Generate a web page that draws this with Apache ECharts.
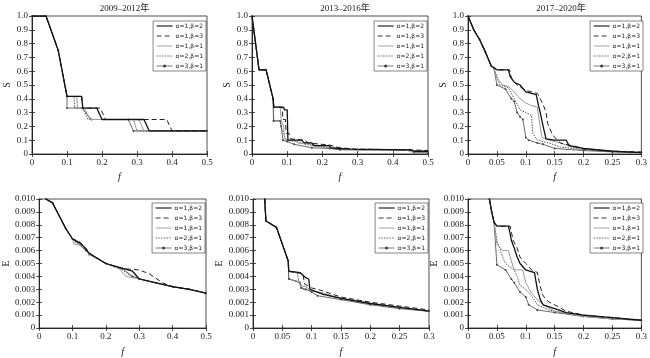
<!DOCTYPE html>
<html><head><meta charset="utf-8">
<script src="https://cdn.jsdelivr.net/npm/echarts@6/dist/echarts.min.js"></script>
<style>html,body{margin:0;padding:0;background:#fff}#c{width:650px;height:358px}</style>
</head><body><div id="c"></div>
<script>
var seriesNames = ['α=1,β=2','α=1,β=3','α=1,β=1','α=2,β=1','α=3,β=1'];
var periodTitles = ['2009–2012年','2013–2016年','2017–2020年'];
var xTicks1 = [0,0.1,0.2,0.3,0.4,0.5];
var xTicks2 = [0,0.05,0.1,0.15,0.2,0.25,0.3];

// Panel 1: S, 2009-2012
var p1_a1b2 = [[0,1],[0.04,1],[0.075,0.75],[0.1,0.417],[0.142,0.417],[0.145,0.333],[0.185,0.333],[0.2,0.25],[0.32,0.25],[0.335,0.167],[0.5,0.167]];
var p1_a1b3 = [[0,1],[0.04,1],[0.075,0.75],[0.1,0.417],[0.142,0.417],[0.145,0.333],[0.195,0.333],[0.21,0.25],[0.385,0.25],[0.4,0.167],[0.5,0.167]];
var p1_a1b1 = [[0,1],[0.04,1],[0.075,0.75],[0.1,0.417],[0.128,0.417],[0.13,0.333],[0.15,0.333],[0.165,0.25],[0.305,0.25],[0.32,0.167],[0.5,0.167]];
var p1_a2b1 = [[0,1],[0.04,1],[0.075,0.75],[0.1,0.417],[0.12,0.417],[0.122,0.333],[0.145,0.333],[0.16,0.25],[0.29,0.25],[0.3,0.167],[0.5,0.167]];
var p1_a3b1 = [[0,1],[0.04,1],[0.075,0.75],[0.1,0.417],[0.1,0.333],[0.142,0.333],[0.17,0.25],[0.275,0.25],[0.29,0.167],[0.5,0.167]];

// Panel 2: S, 2013-2016
var p2_a1b2 = [[0,1],[0.02,0.61],[0.04,0.61],[0.06,0.4],[0.062,0.34],[0.09,0.34],[0.092,0.32],[0.1,0.32],[0.102,0.1],[0.14,0.1],[0.15,0.08],[0.17,0.08],[0.175,0.06],[0.22,0.06],[0.225,0.045],[0.25,0.04],[0.28,0.035],[0.45,0.03],[0.46,0.02],[0.5,0.02]];
var p2_a1b3 = [[0,1],[0.02,0.61],[0.04,0.61],[0.06,0.4],[0.062,0.34],[0.085,0.34],[0.088,0.25],[0.095,0.25],[0.097,0.15],[0.105,0.15],[0.11,0.11],[0.15,0.1],[0.16,0.08],[0.22,0.065],[0.25,0.045],[0.3,0.035],[0.45,0.03],[0.5,0.025]];
var p2_a1b1 = [[0,1],[0.02,0.61],[0.04,0.61],[0.06,0.4],[0.062,0.34],[0.08,0.34],[0.083,0.24],[0.09,0.2],[0.092,0.12],[0.1,0.1],[0.12,0.1],[0.13,0.08],[0.17,0.07],[0.2,0.055],[0.25,0.04],[0.3,0.03],[0.44,0.03],[0.45,0.015],[0.5,0.015]];
var p2_a2b1 = [[0,1],[0.02,0.61],[0.04,0.61],[0.06,0.4],[0.062,0.24],[0.08,0.24],[0.085,0.18],[0.09,0.15],[0.095,0.1],[0.13,0.09],[0.15,0.07],[0.2,0.05],[0.25,0.04],[0.3,0.03],[0.45,0.025],[0.5,0.02]];
var p2_a3b1 = [[0,1],[0.02,0.61],[0.04,0.61],[0.06,0.4],[0.061,0.24],[0.08,0.24],[0.083,0.2],[0.088,0.1],[0.1,0.09],[0.12,0.07],[0.17,0.045],[0.22,0.04],[0.25,0.03],[0.45,0.03],[0.46,0.01],[0.5,0.01]];

// Panel 3: S, 2017-2020
var p3_a1b2 = [[0,1],[0.01,0.9],[0.02,0.83],[0.03,0.74],[0.04,0.64],[0.05,0.61],[0.07,0.61],[0.073,0.56],[0.08,0.52],[0.09,0.5],[0.1,0.45],[0.11,0.44],[0.118,0.43],[0.122,0.35],[0.125,0.3],[0.13,0.2],[0.135,0.11],[0.15,0.1],[0.17,0.1],[0.175,0.06],[0.2,0.04],[0.25,0.02],[0.3,0.01]];
var p3_a1b3 = [[0,1],[0.01,0.9],[0.02,0.83],[0.03,0.74],[0.04,0.64],[0.05,0.61],[0.072,0.61],[0.075,0.55],[0.085,0.5],[0.1,0.46],[0.12,0.44],[0.125,0.4],[0.13,0.36],[0.135,0.3],[0.138,0.22],[0.145,0.15],[0.15,0.12],[0.16,0.08],[0.17,0.07],[0.19,0.05],[0.2,0.035],[0.25,0.02],[0.3,0.015]];
var p3_a1b1 = [[0,1],[0.01,0.9],[0.02,0.83],[0.03,0.74],[0.04,0.64],[0.045,0.62],[0.05,0.55],[0.06,0.5],[0.07,0.49],[0.08,0.45],[0.09,0.4],[0.1,0.37],[0.11,0.35],[0.12,0.34],[0.123,0.25],[0.128,0.12],[0.14,0.1],[0.16,0.08],[0.18,0.05],[0.2,0.03],[0.25,0.02],[0.3,0.01]];
var p3_a2b1 = [[0,1],[0.01,0.9],[0.02,0.83],[0.03,0.74],[0.04,0.64],[0.045,0.62],[0.055,0.5],[0.07,0.48],[0.08,0.4],[0.09,0.32],[0.1,0.3],[0.11,0.28],[0.112,0.15],[0.12,0.1],[0.14,0.08],[0.16,0.05],[0.2,0.03],[0.25,0.02],[0.3,0.01]];
var p3_a3b1 = [[0,1],[0.01,0.9],[0.02,0.83],[0.03,0.74],[0.04,0.64],[0.045,0.62],[0.05,0.5],[0.065,0.47],[0.075,0.4],[0.08,0.38],[0.085,0.3],[0.09,0.27],[0.095,0.25],[0.1,0.12],[0.105,0.1],[0.12,0.08],[0.13,0.07],[0.15,0.04],[0.2,0.025],[0.25,0.015],[0.3,0.01]];

// Panel 4: E, 2009-2012
var p4_a1b2 = [[0.02,0.0100],[0.04,0.0097],[0.06,0.0087],[0.08,0.0077],[0.1,0.0069],[0.12,0.0066],[0.13,0.0064],[0.15,0.0058],[0.2,0.0050],[0.24,0.0047],[0.28,0.0044],[0.3,0.0038],[0.35,0.0035],[0.4,0.0032],[0.45,0.0030],[0.5,0.0027]];
var p4_a1b3 = [[0.02,0.0100],[0.04,0.0097],[0.06,0.0087],[0.08,0.0077],[0.1,0.0069],[0.12,0.0067],[0.14,0.0062],[0.15,0.0058],[0.2,0.0050],[0.25,0.0046],[0.3,0.0045],[0.33,0.0042],[0.37,0.0035],[0.4,0.0032],[0.45,0.0030],[0.5,0.0027]];
var p4_a1b1 = [[0.02,0.0100],[0.04,0.0097],[0.06,0.0087],[0.08,0.0077],[0.1,0.0069],[0.105,0.0065],[0.13,0.0064],[0.15,0.0057],[0.2,0.0050],[0.24,0.0046],[0.26,0.0040],[0.3,0.0038],[0.35,0.0035],[0.4,0.0032],[0.45,0.0030],[0.5,0.0027]];
var p4_a2b1 = [[0.02,0.0100],[0.04,0.0097],[0.06,0.0087],[0.08,0.0077],[0.1,0.0069],[0.11,0.0068],[0.125,0.0066],[0.15,0.0058],[0.2,0.0050],[0.25,0.0045],[0.27,0.0041],[0.3,0.0038],[0.35,0.0035],[0.4,0.0032],[0.45,0.0030],[0.5,0.0027]];
var p4_a3b1 = [[0.02,0.0100],[0.04,0.0097],[0.06,0.0087],[0.08,0.0077],[0.1,0.0069],[0.11,0.0067],[0.14,0.0060],[0.15,0.0057],[0.2,0.0050],[0.25,0.0046],[0.28,0.0040],[0.3,0.0038],[0.35,0.0035],[0.4,0.0032],[0.45,0.0030],[0.5,0.0027]];

// Panel 5: E, 2013-2016
var p5_a1b2 = [[0.02,0.0100],[0.022,0.0083],[0.04,0.0078],[0.06,0.0052],[0.061,0.0044],[0.08,0.0043],[0.09,0.0039],[0.095,0.0038],[0.097,0.0030],[0.1,0.0029],[0.12,0.0026],[0.15,0.0023],[0.2,0.0019],[0.25,0.0016],[0.3,0.0013]];
var p5_a1b3 = [[0.02,0.0100],[0.022,0.0083],[0.04,0.0078],[0.06,0.0052],[0.061,0.0044],[0.085,0.0042],[0.088,0.0034],[0.1,0.0031],[0.11,0.0030],[0.13,0.0027],[0.15,0.0024],[0.2,0.0020],[0.25,0.0017],[0.3,0.0014]];
var p5_a1b1 = [[0.02,0.0100],[0.022,0.0083],[0.04,0.0078],[0.06,0.0052],[0.061,0.0044],[0.075,0.0043],[0.08,0.0033],[0.09,0.0032],[0.1,0.0029],[0.12,0.0027],[0.15,0.0023],[0.2,0.0019],[0.25,0.0016],[0.3,0.0013]];
var p5_a2b1 = [[0.02,0.0100],[0.022,0.0083],[0.04,0.0078],[0.06,0.0052],[0.061,0.0038],[0.08,0.0036],[0.085,0.0030],[0.1,0.0029],[0.13,0.0025],[0.15,0.0023],[0.2,0.0019],[0.25,0.0016],[0.3,0.0013]];
var p5_a3b1 = [[0.02,0.0100],[0.022,0.0083],[0.04,0.0078],[0.06,0.0052],[0.061,0.0038],[0.08,0.0035],[0.082,0.0031],[0.09,0.0030],[0.1,0.0028],[0.11,0.0025],[0.15,0.0022],[0.2,0.0018],[0.25,0.0015],[0.3,0.0013]];

// Panel 6: E, 2017-2020
var p6_a1b2 = [[0.037,0.0100],[0.041,0.0090],[0.045,0.0082],[0.05,0.0079],[0.07,0.0079],[0.072,0.0075],[0.075,0.0068],[0.08,0.0062],[0.085,0.0055],[0.09,0.0050],[0.1,0.0045],[0.115,0.0043],[0.12,0.0030],[0.125,0.0022],[0.13,0.0018],[0.15,0.0015],[0.17,0.0012],[0.2,0.0010],[0.25,0.0008],[0.3,0.0006]];
var p6_a1b3 = [[0.037,0.0100],[0.041,0.0090],[0.045,0.0082],[0.05,0.0079],[0.073,0.0079],[0.078,0.0068],[0.085,0.0062],[0.09,0.0055],[0.1,0.0050],[0.11,0.0045],[0.12,0.0043],[0.125,0.0032],[0.13,0.0025],[0.14,0.0020],[0.15,0.0018],[0.17,0.0013],[0.2,0.0010],[0.25,0.0008],[0.3,0.0006]];
var p6_a1b1 = [[0.037,0.0100],[0.041,0.0090],[0.045,0.0082],[0.05,0.0065],[0.06,0.0060],[0.07,0.0060],[0.075,0.0052],[0.08,0.0045],[0.095,0.0045],[0.1,0.0035],[0.11,0.0027],[0.12,0.0022],[0.13,0.0018],[0.15,0.0013],[0.2,0.0009],[0.25,0.0007],[0.3,0.0006]];
var p6_a2b1 = [[0.037,0.0100],[0.041,0.0090],[0.045,0.0082],[0.05,0.0068],[0.06,0.0055],[0.065,0.0050],[0.08,0.0045],[0.085,0.0040],[0.09,0.0033],[0.1,0.0030],[0.11,0.0025],[0.12,0.0018],[0.14,0.0014],[0.16,0.0012],[0.2,0.0009],[0.25,0.0007],[0.3,0.0006]];
var p6_a3b1 = [[0.037,0.0100],[0.041,0.0090],[0.045,0.0082],[0.05,0.0049],[0.065,0.0045],[0.075,0.0038],[0.08,0.0035],[0.09,0.0028],[0.1,0.0024],[0.105,0.0018],[0.12,0.0014],[0.15,0.0012],[0.2,0.0009],[0.25,0.0007],[0.3,0.0006]];

var panelData = [
  [p1_a1b2,p1_a1b3,p1_a1b1,p1_a2b1,p1_a3b1],
  [p2_a1b2,p2_a1b3,p2_a1b1,p2_a2b1,p2_a3b1],
  [p3_a1b2,p3_a1b3,p3_a1b1,p3_a2b1,p3_a3b1],
  [p4_a1b2,p4_a1b3,p4_a1b1,p4_a2b1,p4_a3b1],
  [p5_a1b2,p5_a1b3,p5_a1b1,p5_a2b1,p5_a3b1],
  [p6_a1b2,p6_a1b3,p6_a1b1,p6_a2b1,p6_a3b1]
];

var grids = [
  {left:32, top:16, width:175, height:138},
  {left:252, top:16, width:176, height:138},
  {left:468, top:16, width:176, height:138},
  {left:32, top:199, width:174, height:136},
  {left:253, top:199, width:176, height:136},
  {left:468, top:199, width:176, height:136}
];
var xMax = [0.5,0.5,0.3,0.5,0.3,0.3];
var xInt = [0.1,0.1,0.05,0.1,0.05,0.05];

var serif = 'Liberation Serif';
var styles = [
  {color:'#111', width:1.3, type:'solid', lw:1.1},
  {color:'#222', width:1, type:[5,3], lw:0.9},
  {color:'#999', width:1, type:'solid', lw:0.9},
  {color:'#555', width:1, type:[1.5,1.2], lw:0.9},
  {color:'#444', width:0.8, type:'solid', lw:0.7}
];

var option = {animation:false, backgroundColor:'#fff', grid:[], xAxis:[], yAxis:[], series:[], legend:[], title:[]};
grids.forEach(function(g, i){
  option.grid.push({left:g.left, top:g.top, width:g.width, height:g.height, show:true, borderColor:'#222', borderWidth:0.8, containLabel:false});
  var isS = i < 3;
  option.xAxis.push({type:'value', gridIndex:i, min:0, max:xMax[i], interval:xInt[i],
    name:'f', nameLocation:'middle', nameGap:isS?18:19,
    nameTextStyle:{fontFamily:serif, fontStyle:'italic', fontSize:10, color:'#222'},
    axisLine:{show:true, lineStyle:{color:'#222', width:0.8}},
    axisTick:{show:true, inside:true, length:3, lineStyle:{color:'#222', width:0.8}},
    axisLabel:{fontFamily:serif, fontSize:9, color:'#222', margin:4,
      formatter:function(v){return v===0?'0':String(+v.toFixed(2));}},
    splitLine:{show:false}});
  option.xAxis.push({type:'value', gridIndex:i, position:'top', min:0, max:xMax[i], interval:xInt[i],
    axisLine:{show:true, lineStyle:{color:'#222', width:0.8}},
    axisTick:{show:true, inside:true, length:3, lineStyle:{color:'#222', width:0.8}},
    axisLabel:{show:false}, splitLine:{show:false}});
  option.yAxis.push({type:'value', gridIndex:i, min:0, max:isS?1:0.01, interval:isS?0.1:0.001,
    name:isS?'S':'E', nameLocation:'middle', nameGap:isS?20:24, nameRotate:90,
    nameTextStyle:{fontFamily:serif, fontSize:10, color:'#222'},
    axisLine:{show:true, lineStyle:{color:'#222', width:0.8}},
    axisTick:{show:true, inside:true, length:3, lineStyle:{color:'#222', width:0.8}},
    axisLabel:{fontFamily:serif, fontSize:9, color:'#222', margin:4,
      formatter:function(v){return v===0?'0':v.toFixed(isS?1:3);}},
    splitLine:{show:false}});
  option.yAxis.push({type:'value', gridIndex:i, position:'right', min:0, max:isS?1:0.01, interval:isS?0.1:0.001,
    axisLine:{show:true, lineStyle:{color:'#222', width:0.8}},
    axisTick:{show:true, inside:true, length:3, lineStyle:{color:'#222', width:0.8}},
    axisLabel:{show:false}, splitLine:{show:false}});
  panelData[i].forEach(function(d, k){
    var st = styles[k];
    option.series.push({type:'line', name:seriesNames[k], xAxisIndex:2*i, yAxisIndex:2*i, data:d,
      symbol:k===4?'circle':'none', symbolSize:2, showSymbol:k===4,
      itemStyle:{color:st.color},
      lineStyle:{color:st.color, width:st.width, type:st.type}, z:10-k});
  });
  option.legend.push({
    data:seriesNames.map(function(n, k){
      return {name:n, itemStyle:{opacity:k===4?1:0, borderWidth:0},
        lineStyle:{width:styles[k].lw, type:styles[k].type, color:styles[k].color}};
    }),
    orient:'vertical', right:650-(g.left+g.width)+1, top:g.top+(isS?5:4),
    backgroundColor:'#fff', borderColor:'#333', borderWidth:0.6, padding:[2,3,2,3],
    itemWidth:16, itemHeight:4, itemGap:4, selectedMode:false,
    textStyle:{fontSize:6, color:'#222', fontFamily:'DejaVu Sans', padding:[0,0,0,-2]}});
  if (isS) {
    option.title.push({text:periodTitles[i], left:g.left+g.width/2, top:-1, textAlign:'center',
      textStyle:{fontFamily:serif+', Noto Sans CJK SC', fontSize:9, fontWeight:'normal', color:'#222'}});
  }
});
var chart = echarts.init(document.getElementById('c'), null, {renderer:'canvas'});
chart.setOption(option);
</script></body></html>
